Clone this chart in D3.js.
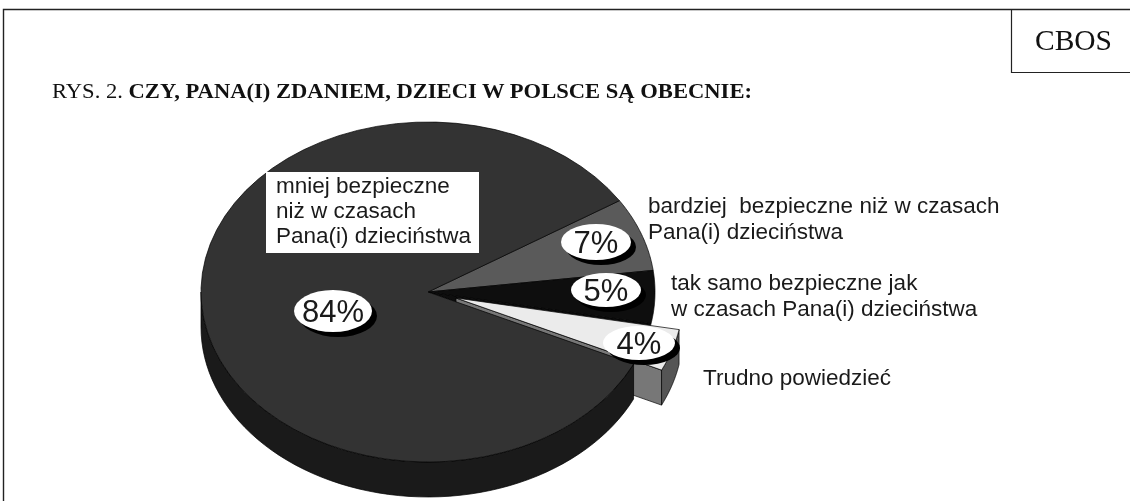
<!DOCTYPE html>
<html>
<head>
<meta charset="utf-8">
<script src="https://cdn.jsdelivr.net/npm/d3@7"></script>
<style>
	html, body { margin: 0; padding: 0; background: #fff; }
	svg { display: block; filter: blur(0.4px); }
	.sans { font-family: "Liberation Sans", sans-serif; fill: #1a1a1a; }
	.serif { font-family: "Liberation Serif", serif; fill: #111; }
</style>
</head>
<body>
<div id="chart"></div>
<script>
// values as printed on the figure, in drawing order going clockwise
var categories = ["bardziej", "tak samo", "trudno", "mniej"];
var shares = [7, 5, 4, 84];
var shareLabels = ["7%", "5%", "4%", "84%"];
var sliceColors = ["#5a5a5a", "#0e0e0e", "#ebebeb", "#333333"];

var labelLines = [
	["bardziej  bezpieczne niż w czasach", "Pana(i) dzieciństwa"],
	["tak samo bezpieczne jak", "w czasach Pana(i) dzieciństwa"],
	["Trudno powiedzieć"],
	["mniej bezpieczne", "niż w czasach", "Pana(i) dzieciństwa"]
];

var chart_width = 1130,
    chart_height = 501;

var svg = d3.select("#chart").append("svg")
	.attr("width", chart_width)
	.attr("height", chart_height);

// frame and CBOS box
svg.append("path")
	.attr("d", "M3.5,501V9.5H1130")
	.attr("fill", "none").attr("stroke", "#222").attr("stroke-width", 1.4);
svg.append("path")
	.attr("d", "M1011.5,9.5V72.5H1130")
	.attr("fill", "none").attr("stroke", "#222").attr("stroke-width", 1.2);
svg.append("text").attr("class", "serif")
	.attr("x", 1035).attr("y", 50)
	.attr("font-size", 30)
	.attr("textLength", 77)
	.attr("lengthAdjust", "spacingAndGlyphs")
	.text("CBOS");

var title = svg.append("text").attr("class", "serif")
	.attr("x", 52).attr("y", 98)
	.attr("font-size", 21)
	.attr("textLength", 700)
	.attr("lengthAdjust", "spacingAndGlyphs");
title.append("tspan").text("RYS. 2. ");
title.append("tspan").attr("font-weight", "bold")
	.text("CZY, PANA(I) ZDANIEM, DZIECI W POLSCE SĄ OBECNIE:");

// the pie is a unit circle pushed through two scales, which gives the tilted ellipse
var x_axis = d3.scaleLinear().domain([-1, 1]).range([201, 655]);
var y_axis = d3.scaleLinear().domain([-1, 1]).range([122, 462]);
var depth = 35;
var explode = {dx: 28, dy: 6};

var arcs = d3.pie().sort(null)
	.startAngle(57.5 * Math.PI / 180)
	.endAngle((57.5 + 360) * Math.PI / 180)(shares);

var line = d3.line();

function rim(a, offset) {
	return [x_axis(Math.sin(a)) + offset.dx, y_axis(-Math.cos(a)) + offset.dy];
}

function rimPoints(a0, a1, offset) {
	return d3.range(0, 61).map(function (i) {
		return rim(a0 + (a1 - a0) * i / 60, offset);
	});
}

function topPath(d, offset) {
	var apex = [x_axis(0) + offset.dx, y_axis(0) + offset.dy];
	return line([apex].concat(rimPoints(d.startAngle, d.endAngle, offset))) + "Z";
}

// outer wall, only the part that faces the viewer
function wallPath(d, offset) {
	var a0 = Math.max(d.startAngle, Math.PI / 2),
	    a1 = Math.min(d.endAngle, Math.PI * 1.5);
	var upper = rimPoints(a0, a1, offset);
	var lower = upper.slice().reverse().map(function (p) { return [p[0], p[1] + depth]; });
	return line(upper.concat(lower)) + "Z";
}

var none = {dx: 0, dy: 0};
var pieGroup = svg.append("g")
	.attr("stroke", "#000")
	.attr("stroke-width", 0.7)
	.attr("stroke-linejoin", "round");

// hole left behind by the pulled out slice
pieGroup.append("path").attr("d", topPath(arcs[2], none)).attr("fill", "#0e0e0e");

// back slices
[0, 1].forEach(function (i) {
	pieGroup.append("path").attr("d", topPath(arcs[i], none)).attr("fill", sliceColors[i]);
});

// pulled out slice: cut face, outer wall, top
var cutAngle = arcs[2].endAngle;
var cutFrom = [x_axis(0) + explode.dx, y_axis(0) + explode.dy];
var cutTo = rim(cutAngle, explode);
pieGroup.append("path")
	.attr("d", line([cutFrom, cutTo, [cutTo[0], cutTo[1] + depth], [cutFrom[0], cutFrom[1] + depth]]) + "Z")
	.attr("fill", "#777777");
pieGroup.append("path").attr("d", wallPath(arcs[2], explode)).attr("fill", "#555555");
pieGroup.append("path").attr("d", topPath(arcs[2], explode)).attr("fill", sliceColors[2]);

// big slice goes last, it hides the front of the cut face
pieGroup.append("path").attr("d", wallPath(arcs[3], none)).attr("fill", "#1a1a1a");
pieGroup.append("path").attr("d", topPath(arcs[3], none)).attr("fill", sliceColors[3]);

// white box under the big slice label
svg.append("rect")
	.attr("x", 266).attr("y", 172)
	.attr("width", 213).attr("height", 81)
	.attr("fill", "#fff");

// category labels
var labelPos = [
	{x: 648, y: 213, step: 26},
	{x: 671, y: 290, step: 26},
	{x: 703, y: 385, step: 25},
	{x: 276, y: 193, step: 25}
];

labelLines.forEach(function (lines, i) {
	svg.selectAll("text.label" + i)
		.data(lines)
		.enter()
		.append("text")
			.attr("class", "sans label" + i)
			.attr("xml:space", "preserve")
			.style("white-space", "pre")
			.attr("x", labelPos[i].x)
			.attr("y", function (d, j) { return labelPos[i].y + j * labelPos[i].step; })
			.attr("font-size", 22.5)
			.text(function (d) { return d; });
});

// percent ovals with their drop shadow
var ovalPos = [
	{x: 596, y: 242, rx: 35, ry: 18},
	{x: 606, y: 290, rx: 35, ry: 17},
	{x: 639, y: 343, rx: 36, ry: 17},
	{x: 333, y: 311, rx: 39, ry: 21}
];

var ovals = svg.selectAll("g.oval")
	.data(shareLabels)
	.enter()
	.append("g")
		.attr("class", "oval")
		.attr("transform", function (d, i) { return "translate(" + ovalPos[i].x + "," + ovalPos[i].y + ")"; });

ovals.append("ellipse")
	.attr("cx", 5).attr("cy", 5)
	.attr("rx", function (d, i) { return ovalPos[i].rx; })
	.attr("ry", function (d, i) { return ovalPos[i].ry; })
	.attr("fill", "#000");
ovals.append("ellipse")
	.attr("rx", function (d, i) { return ovalPos[i].rx; })
	.attr("ry", function (d, i) { return ovalPos[i].ry; })
	.attr("fill", "#fff");
ovals.append("text")
	.attr("class", "sans")
	.attr("text-anchor", "middle")
	.attr("y", 11)
	.attr("font-size", 31)
	.text(function (d) { return d; });
</script>
</body>
</html>
